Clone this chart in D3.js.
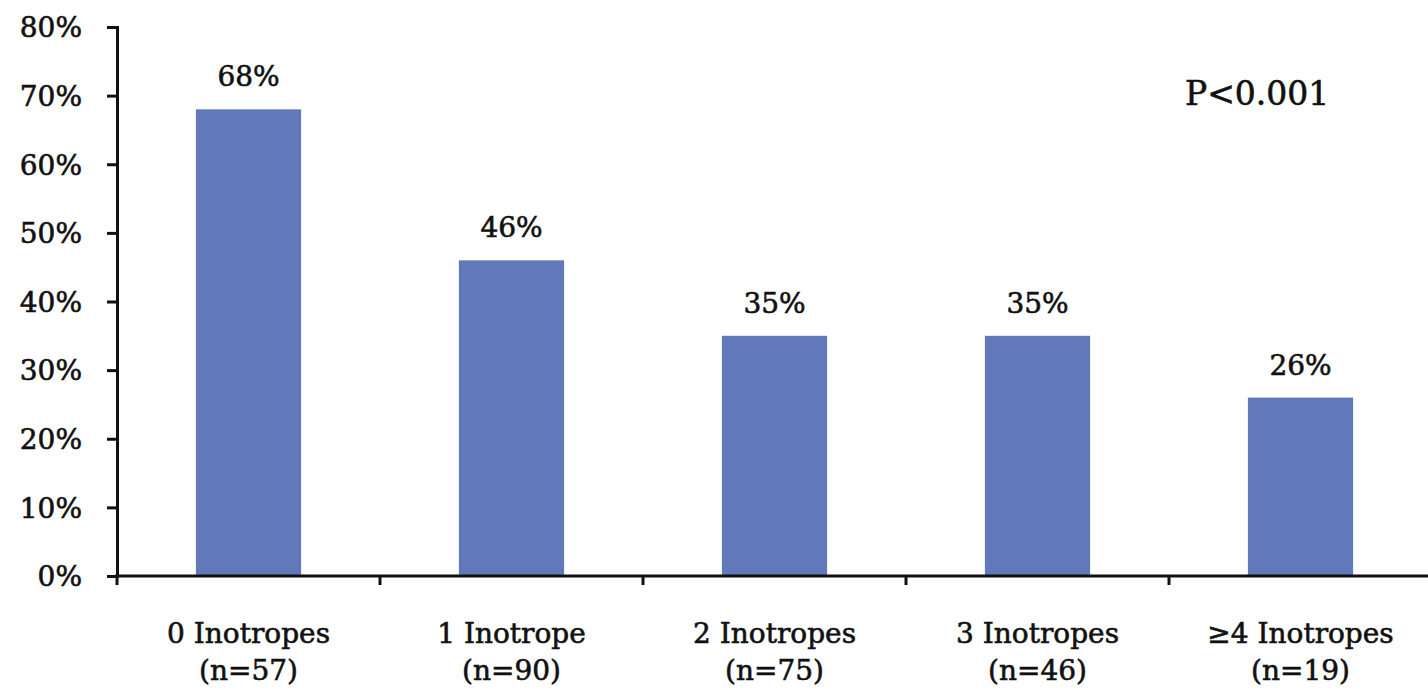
<!DOCTYPE html>
<html>
<head>
<meta charset="utf-8">
<script src="https://cdn.jsdelivr.net/npm/d3@7/dist/d3.min.js"></script>
<style>
  html, body { margin: 0; padding: 0; background: #fff; }
  svg { display: block; }
  text { font-family: "DejaVu Serif", "Liberation Serif", serif; fill: #111; stroke: #111; stroke-width: 0.6px; }
</style>
</head>
<body>
<svg id="chart" width="1428" height="690"></svg>
<script>
// Survival share by number of inotropes at baseline
const categories = ["0 Inotropes", "1 Inotrope", "2 Inotropes", "3 Inotropes", "\u22654 Inotropes"];
const sampleSizes = ["(n=57)", "(n=90)", "(n=75)", "(n=46)", "(n=19)"];
const percentages = [68, 46, 35, 35, 26];
const yTicks = [0, 10, 20, 30, 40, 50, 60, 70, 80];
const pValueText = "P<0.001";

const svg = d3.select("#chart");
const barColor = "#6179ba";

const x = d3.scaleBand()
  .domain(categories)
  .range([117, 1432])
  .paddingInner(0.6)
  .paddingOuter(0.3);

const y = d3.scaleLinear().domain([0, 80]).range([576, 27]);

// Bars
svg.append("g").selectAll("rect")
  .data(categories)
  .join("rect")
  .attr("x", d => x(d))
  .attr("y", (d, i) => y(percentages[i]))
  .attr("width", x.bandwidth())
  .attr("height", (d, i) => y(0) - y(percentages[i]))
  .attr("fill", barColor);

// Value labels above bars
svg.append("g").selectAll("text")
  .data(categories)
  .join("text")
  .attr("x", d => x(d) + x.bandwidth() / 2)
  .attr("y", (d, i) => y(percentages[i]) - 23)
  .attr("text-anchor", "middle")
  .style("font-size", "28px")
  .text((d, i) => percentages[i] + "%");

// Y axis
const yAxis = svg.append("g")
  .attr("transform", `translate(${x.range()[0]},0)`)
  .call(d3.axisLeft(y).tickValues(yTicks).tickFormat(d => d + "%").tickSize(10).tickSizeOuter(10));
yAxis.select(".domain").attr("stroke", "#111").attr("stroke-width", 3);
yAxis.selectAll(".tick line").attr("stroke", "#111").attr("stroke-width", 3);
yAxis.selectAll(".tick text")
  .attr("x", -35)
  .attr("dy", "0.35em")
  .style("font-size", "28px")
  .style("font-family", "\"DejaVu Serif\", serif")
  .attr("fill", "#111");

// X axis baseline with category separators
const step = x.step();
const separators = [x.range()[0]].concat(categories.slice(0, -1).map(c => x(c) + x.bandwidth() + step * x.paddingInner() / 2));
const xAxisG = svg.append("g");
xAxisG.append("line")
  .attr("x1", x.range()[0] - 2).attr("x2", 1428)
  .attr("y1", y(0)).attr("y2", y(0))
  .attr("stroke", "#111").attr("stroke-width", 3);
xAxisG.selectAll("line.sep")
  .data(separators)
  .join("line")
  .attr("class", "sep")
  .attr("x1", d => d).attr("x2", d => d)
  .attr("y1", y(0)).attr("y2", y(0) + 9)
  .attr("stroke", "#111").attr("stroke-width", 3);

// Category labels (two lines)
const catLabels = svg.append("g").selectAll("text")
  .data(categories)
  .join("text")
  .attr("text-anchor", "middle")
  .style("font-size", "28px");
catLabels.append("tspan")
  .attr("x", d => x(d) + x.bandwidth() / 2)
  .attr("y", 643)
  .text(d => d);
catLabels.append("tspan")
  .attr("x", d => x(d) + x.bandwidth() / 2)
  .attr("y", 680)
  .text((d, i) => sampleSizes[i]);

// Significance annotation
svg.append("text")
  .attr("x", 1185)
  .attr("y", 105)
  .style("font-size", "33px")
  .text(pValueText);
</script>
</body>
</html>
